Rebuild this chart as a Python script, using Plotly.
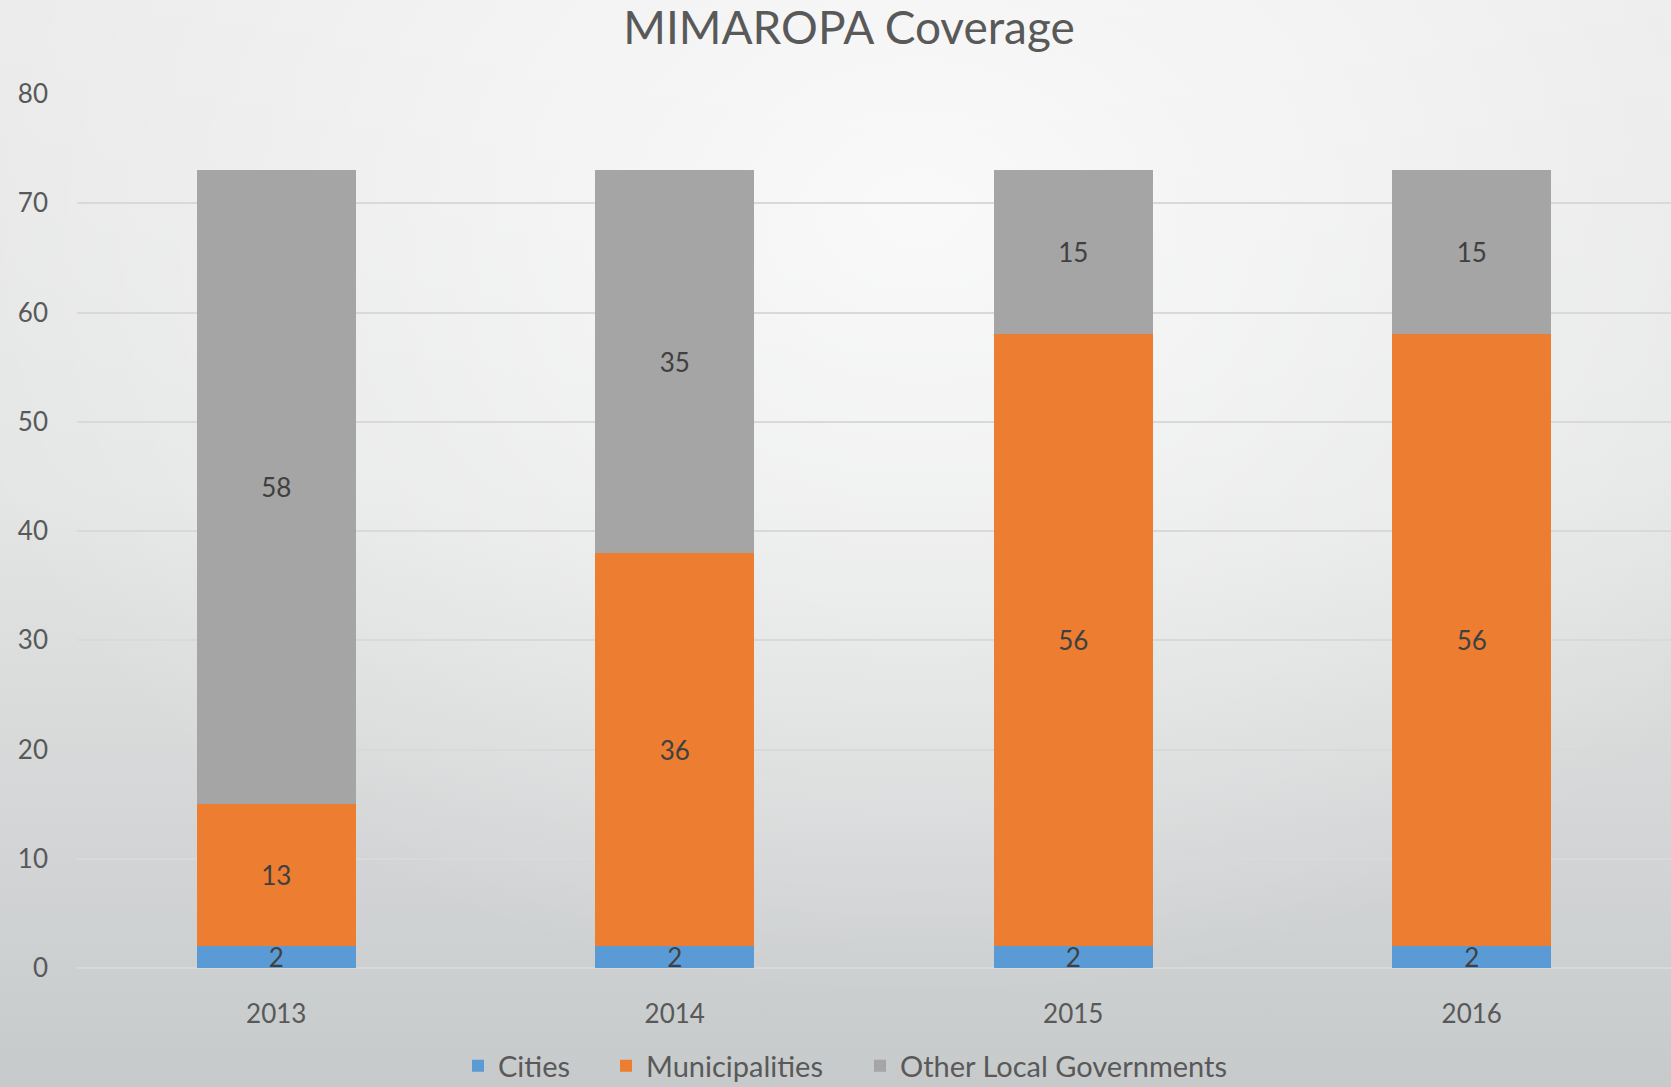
import base64
import plotly.graph_objects as go

years = ["2013", "2014", "2015", "2016"]
cities = [2, 2, 2, 2]
municipalities = [13, 36, 56, 56]
other_lgus = [58, 35, 15, 15]
series_names = ["Cities", "Municipalities", "Other Local Governments"]
series_colors = ["#5b9bd5", "#ed7d31", "#a5a5a5"]
y_ticks = [0, 10, 20, 30, 40, 50, 60, 70, 80]

W, H = 1671, 1087
ML, MR, MT, MB = 77, 0, 94, 119
FONT = "Lato, 'Open Sans', sans-serif"

svg = f'''<svg xmlns="http://www.w3.org/2000/svg" width="{W}" height="{H}" viewBox="0 0 {W} {H}" preserveAspectRatio="none">
<defs>
<linearGradient id="lg" x1="0" y1="0" x2="0" y2="1">
<stop offset="0" stop-color="#ebebeb"/>
<stop offset="0.45" stop-color="#e4e5e5"/>
<stop offset="1" stop-color="#c7cacb"/>
</linearGradient>
<radialGradient id="rg" cx="0.55" cy="0.2" r="0.6" gradientTransform="translate(0.55,0.2) scale(1,1.2) translate(-0.55,-0.2)">
<stop offset="0" stop-color="#ffffff" stop-opacity="0.75"/>
<stop offset="1" stop-color="#ffffff" stop-opacity="0"/>
</radialGradient>
</defs>
<rect width="{W}" height="{H}" fill="url(#lg)"/>
<rect width="{W}" height="{H}" fill="url(#rg)"/>
</svg>'''
bg_src = "data:image/svg+xml;base64," + base64.b64encode(svg.encode()).decode()

pw = W - ML - MR
ph = H - MT - MB

legend_ids = ["legend", "legend2", "legend3"]
legend_text_x = [498, 646, 900]  # left edge of each legend text in the page (px)

fig = go.Figure()
for name, vals, col, lid in zip(series_names, [cities, municipalities, other_lgus], series_colors, legend_ids):
    fig.add_trace(go.Bar(
        x=years, y=vals, name=name, legend=lid,
        marker=dict(color=col, line=dict(width=0)),
        text=vals, textposition="inside", insidetextanchor="middle",
        constraintext="none", textangle=0,
        textfont=dict(family=FONT, size=26, color="#404040"),
    ))

legend_common = dict(orientation="h", xref="container", yref="container",
                     xanchor="left", yanchor="middle", y=1 - 1066 / H,
                     font=dict(family=FONT, size=29, color="#595959"),
                     itemwidth=30, bgcolor="rgba(0,0,0,0)", borderwidth=0)

fig.update_layout(
    barmode="stack",
    bargap=0.6,
    width=W, height=H,
    margin=dict(l=ML, r=MR, t=MT, b=MB, autoexpand=False),
    paper_bgcolor="#dcdedf",
    plot_bgcolor="rgba(0,0,0,0)",
    title=dict(text="MIMAROPA Coverage", x=849 / W, xanchor="center", xref="container",
               y=1 - 28 / H, yanchor="middle", yref="container",
               font=dict(family=FONT, size=46, color="#595959")),
    font=dict(family=FONT, color="#595959"),
    showlegend=True,
    legend=dict(x=(legend_text_x[0] - 40) / W, **legend_common),
    legend2=dict(x=(legend_text_x[1] - 40) / W, **legend_common),
    legend3=dict(x=(legend_text_x[2] - 40) / W, **legend_common),
    images=[dict(source=bg_src, xref="paper", yref="paper",
                 x=-ML / pw, y=1 + MT / ph, sizex=W / pw, sizey=H / ph,
                 sizing="stretch", layer="below", xanchor="left", yanchor="top")],
)
fig.update_xaxes(showgrid=False, showline=False, ticks="",
                 tickfont=dict(family=FONT, size=26, color="#595959"),
                 ticklabelstandoff=28)
fig.update_yaxes(range=[0, 80], tickvals=y_ticks, showgrid=True,
                 gridcolor="#d9d9d9", gridwidth=2, zeroline=True,
                 zerolinecolor="#d9d9d9", zerolinewidth=2, showline=False,
                 tickfont=dict(family=FONT, size=26, color="#595959"),
                 ticklabelstandoff=28)

fig.write_html("out.html", config={"displayModeBar": False},
               post_script="document.body.style.margin='0';document.body.style.overflow='hidden';")
